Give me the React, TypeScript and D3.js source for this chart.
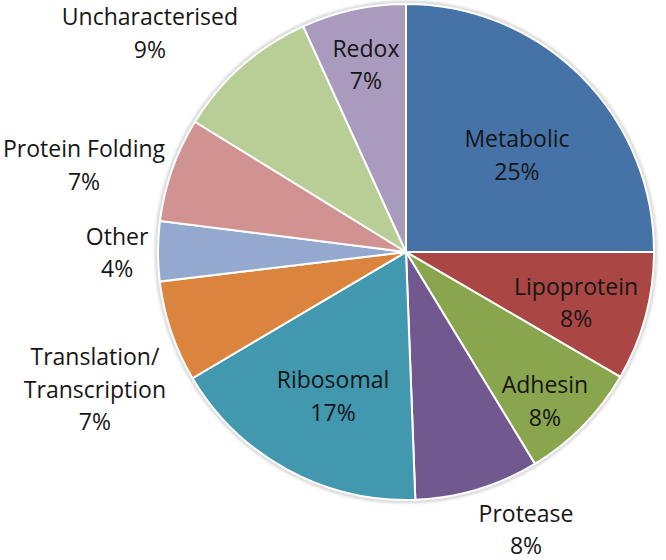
import React from "react";
import * as d3 from "d3";

const categories = [
  "Metabolic",
  "Lipoprotein",
  "Adhesin",
  "Protease",
  "Ribosomal",
  "Translation/\nTranscription",
  "Other",
  "Protein Folding",
  "Uncharacterised",
  "Redox",
];
const values = [25.0, 8.4, 7.9, 8.1, 17.1, 6.6, 3.9, 6.8, 9.4, 6.8];
const percentLabels = ["25%", "8%", "8%", "8%", "17%", "7%", "4%", "7%", "9%", "7%"];
const colors = [
  "#4572A7",
  "#AA4643",
  "#89A54E",
  "#71588F",
  "#4198AF",
  "#DB843D",
  "#93A9CF",
  "#D19392",
  "#B9CD96",
  "#A99BBD",
];
// label placement: polar angle (deg, clockwise from 12 o'clock) and radius factor
const labelAngles = [49.0, 106.7, 137.1, 156.65, 206.8, 246.1, 269.8, 285.0, 310.5, 347.9];
const labelRadii = [0.593, 0.716, 0.823, 1.221, 0.653, 1.372, 1.165, 1.344, 1.358, 0.771];

const W = 666;
const H = 560;
const CX = 406;
const CY = 252;
const R = 248;
const LINE = 32.5;

export default function App() {
  const pie = d3.pie<number>().sort(null).value((d) => d);
  const arcs = pie(values);
  const arc = d3.arc<d3.PieArcDatum<number>>().innerRadius(0).outerRadius(R);

  return (
    <svg
      width={W}
      height={H}
      style={{ position: "absolute", left: 0, top: 0, background: "#fff" }}
      fontFamily="'Open Sans', sans-serif"
    >
      <defs>
        <filter id="sh" x="-10%" y="-10%" width="120%" height="120%">
          <feGaussianBlur stdDeviation="1.5" />
        </filter>
      </defs>
      <g transform={`translate(${CX},${CY})`}>
        <circle r={R + 1.5} fill="none" stroke="#c8c8c8" strokeWidth={2.5} filter="url(#sh)" />
        {arcs.map((a, i) => (
          <path key={i} d={arc(a) || ""} fill={colors[i]} stroke="#fff" strokeWidth={2} />
        ))}
        {categories.map((c, i) => {
          const lines = [...c.split("\n"), percentLabels[i]];
          const ang = (labelAngles[i] * Math.PI) / 180;
          const x = Math.sin(ang) * labelRadii[i] * R;
          const y = -Math.cos(ang) * labelRadii[i] * R;
          const first = y - ((lines.length - 1) * LINE) / 2 + 8;
          return (
            <text key={i} x={x} textAnchor="middle" fontSize={23} fill="#161616">
              {lines.map((l, j) => (
                <tspan key={j} x={x} y={first + j * LINE}>
                  {l}
                </tspan>
              ))}
            </text>
          );
        })}
      </g>
    </svg>
  );
}
